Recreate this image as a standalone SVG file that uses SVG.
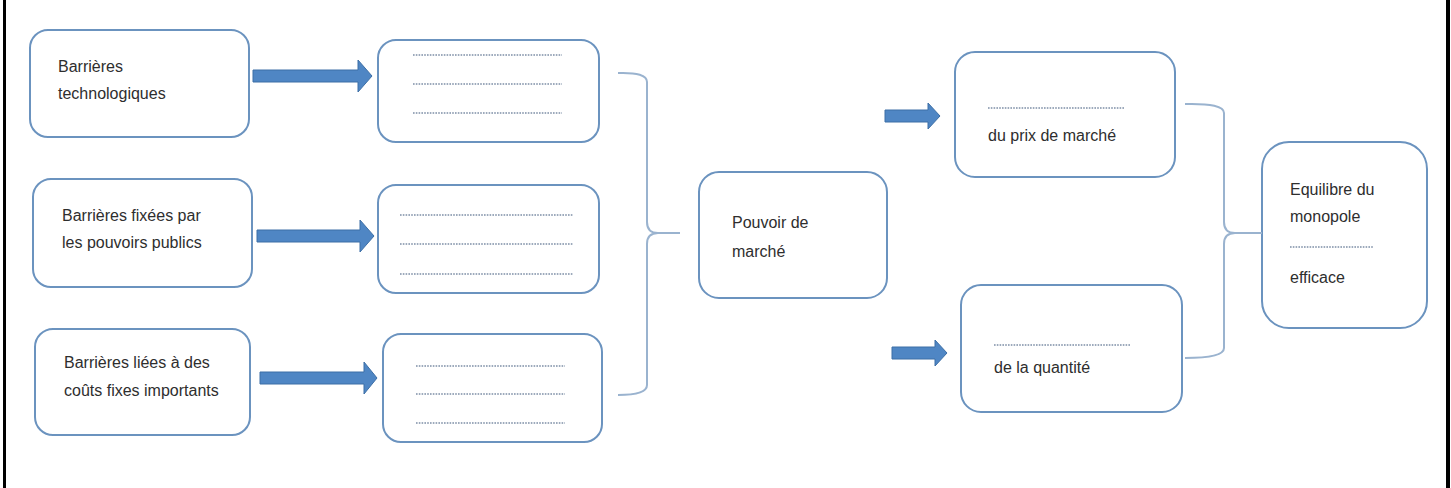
<svg xmlns="http://www.w3.org/2000/svg" width="1451" height="488" viewBox="0 0 1451 488">
<style>
.box{fill:#fff;stroke:#6b93bf;stroke-width:2}
.t{font-family:"Liberation Sans",Arial,sans-serif;font-size:16px;fill:#2e2e2e}
.dot{stroke:#7d8ea6;stroke-width:1.4;stroke-dasharray:1.6 1.2}
.arr{fill:#4f86c4;stroke:#3d6fa6;stroke-width:1}
.br{fill:none;stroke:#9ab3cf;stroke-width:2}
</style>
<rect width="1451" height="488" fill="#fff"/>
<rect x="3" y="0" width="3" height="488" fill="#000"/>
<rect x="1446" y="0" width="4" height="488" fill="#000"/>

<g id="n1">
<rect class="box" x="30" y="30" width="219" height="107" rx="18"/>
<text class="t" x="58" y="72">Barrières</text>
<text class="t" x="58" y="99">technologiques</text>
</g>
<g id="n2">
<rect class="box" x="33" y="179" width="219" height="108" rx="18"/>
<text class="t" x="62" y="221">Barrières fixées par</text>
<text class="t" x="62" y="248">les pouvoirs publics</text>
</g>
<g id="n3">
<rect class="box" x="35" y="329" width="215" height="106" rx="18"/>
<text class="t" x="64" y="368">Barrières liées à des</text>
<text class="t" x="64" y="396">coûts fixes importants</text>
</g>

<g id="d1">
<rect class="box" x="378" y="40" width="221" height="102" rx="18"/>
<line class="dot" x1="413" y1="55" x2="562" y2="55"/>
<line class="dot" x1="413" y1="84" x2="562" y2="84"/>
<line class="dot" x1="413" y1="113" x2="562" y2="113"/>
</g>
<g id="d2">
<rect class="box" x="378" y="185" width="221" height="108" rx="18"/>
<line class="dot" x1="400" y1="215" x2="573" y2="215"/>
<line class="dot" x1="400" y1="244" x2="573" y2="244"/>
<line class="dot" x1="400" y1="274" x2="573" y2="274"/>
</g>
<g id="d3">
<rect class="box" x="383" y="334" width="219" height="108" rx="18"/>
<line class="dot" x1="416" y1="366" x2="565" y2="366"/>
<line class="dot" x1="416" y1="394" x2="565" y2="394"/>
<line class="dot" x1="416" y1="423" x2="565" y2="423"/>
</g>

<g id="pouvoir">
<rect class="box" x="699" y="172" width="188" height="126" rx="20"/>
<text class="t" x="732" y="228">Pouvoir de</text>
<text class="t" x="732" y="257">marché</text>
</g>

<g id="prix">
<rect class="box" x="955" y="52" width="220" height="125" rx="20"/>
<line class="dot" x1="988" y1="108" x2="1124" y2="108"/>
<text class="t" x="988" y="141">du prix de marché</text>
</g>
<g id="quantite">
<rect class="box" x="961" y="285" width="221" height="127" rx="20"/>
<line class="dot" x1="994" y1="345" x2="1130" y2="345"/>
<text class="t" x="994" y="373">de la quantité</text>
</g>

<g id="equilibre">
<rect class="box" x="1262" y="142" width="165" height="186" rx="27"/>
<text class="t" x="1290" y="195">Equilibre du</text>
<text class="t" x="1290" y="222">monopole</text>
<line class="dot" x1="1290" y1="247" x2="1373" y2="247"/>
<text class="t" x="1290" y="283">efficace</text>
</g>

<g id="connectors">
<path class="arr" d="M253,70 L358,70 L358,60 L372,76 L358,92 L358,82 L253,82 Z"/>
<path class="arr" d="M257,230 L360,230 L360,220 L374,236 L360,252 L360,242 L257,242 Z"/>
<path class="arr" d="M260,372 L364,372 L364,362 L377,378 L364,394 L364,384 L260,384 Z"/>
<path class="arr" d="M885,110 L928,110 L928,103 L940,116 L928,129 L928,122 L885,122 Z"/>
<path class="arr" d="M892,347 L935,347 L935,340 L947,353 L935,366 L935,359 L892,359 Z"/>
<path class="br" d="M618,73 Q647,72 647,82 L647,222 Q647,233 658,233 L680,233 M658,233 Q647,233 647,244 L647,385 Q647,395 618,395"/>
<path class="br" d="M1185,104 Q1224,103 1224,113 L1224,222 Q1224,233 1235,233 L1262,233 M1235,233 Q1224,233 1224,244 L1224,348 Q1224,358 1185,358"/>
</g>
</svg>
